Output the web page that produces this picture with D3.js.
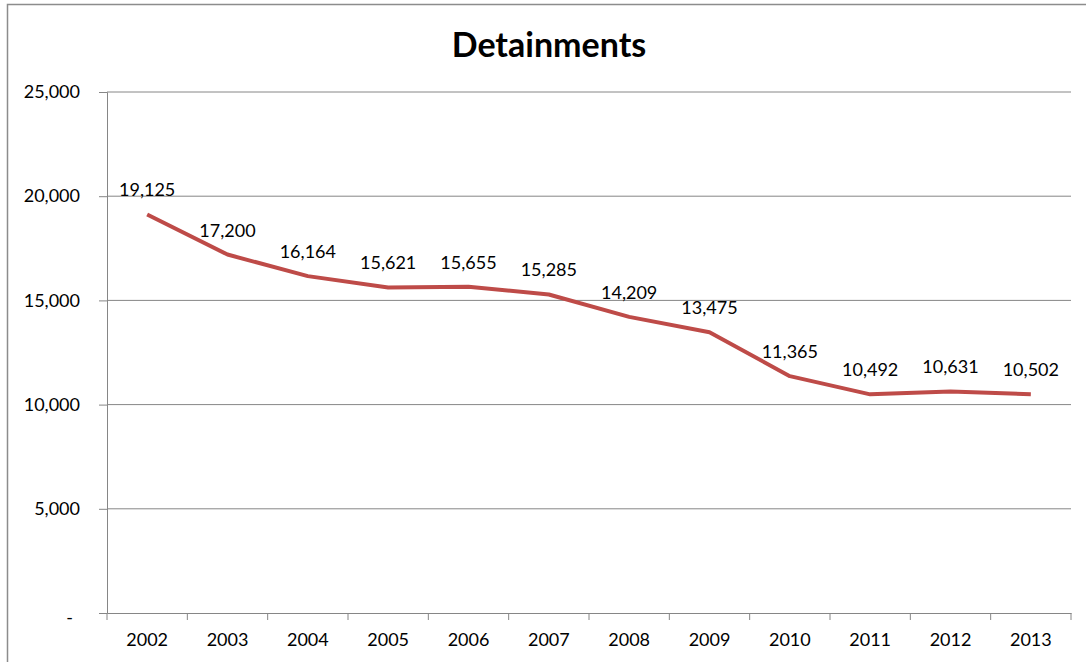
<!DOCTYPE html>
<html>
<head>
<meta charset="utf-8">
<script src="https://cdn.jsdelivr.net/npm/d3@7"></script>
<style>
  body { margin: 0; background: #fff; }
  svg text { font-family: Lato, "Open Sans", sans-serif; fill: #000; }
</style>
</head>
<body>
<div id="container"></div>
<script>
/* CONSTANTS AND GLOBALS */
const width = 1086,
  height = 662,
  margin = {top: 92, bottom: 49, left: 107, right: 15};

// data
const years = ["2002","2003","2004","2005","2006","2007","2008","2009","2010","2011","2012","2013"];
const detainments = [19125, 17200, 16164, 15621, 15655, 15285, 14209, 13475, 11365, 10492, 10631, 10502];
const yTicks = [0, 5000, 10000, 15000, 20000, 25000];

const data = years.map((y, i) => ({year: y, value: detainments[i]}));

const svg = d3.select("#container")
  .append("svg")
  .attr("width", width)
  .attr("height", height);

// outer chart frame
svg.append("rect")
  .attr("x", 7.5).attr("y", 4.5)
  .attr("width", 1090).attr("height", 670)
  .attr("fill", "none")
  .attr("stroke", "#8c8c8c")
  .attr("stroke-width", 1.5);

// Scales
const xScale = d3.scaleBand()
  .domain(years)
  .range([margin.left, width - margin.right]);

const yScale = d3.scaleLinear()
  .domain([0, 25000])
  .range([height - margin.bottom, margin.top]);

const fmt = d3.format(",");

// gridlines + y axis
const yAxis = d3.axisLeft(yScale)
  .tickValues(yTicks)
  .tickSize(8)
  .tickFormat(d => d === 0 ? "-" : fmt(d));

const gy = svg.append("g")
  .attr("transform", `translate(${margin.left},0)`)
  .call(yAxis);
gy.select(".domain").attr("stroke", "#868686");
gy.selectAll(".tick line").attr("stroke", "#868686");
gy.selectAll(".tick text")
  .attr("x", -27)
  .style("font-size", "18px");
gy.selectAll(".tick").filter(d => d === 0).select("text").attr("dy", "0.6em").attr("x", -34);

svg.append("g")
  .selectAll("line")
  .data(yTicks.filter(d => d > 0))
  .join("line")
  .attr("x1", margin.left)
  .attr("x2", width - margin.right)
  .attr("y1", d => yScale(d))
  .attr("y2", d => yScale(d))
  .attr("stroke", "#868686");

// x axis
const xAxis = d3.axisBottom(xScale).tickSize(0);
const gx = svg.append("g")
  .attr("transform", `translate(0,${height - margin.bottom})`)
  .call(xAxis);
gx.select(".domain").attr("stroke", "#868686");
gx.selectAll(".tick text")
  .attr("y", 20)
  .style("font-size", "18px");

// category boundary ticks
const bounds = years.map(y => xScale(y)).concat([xScale.range()[1]]);
svg.append("g")
  .selectAll("line")
  .data(bounds)
  .join("line")
  .attr("x1", d => d).attr("x2", d => d)
  .attr("y1", height - margin.bottom)
  .attr("y2", height - margin.bottom + 7)
  .attr("stroke", "#868686");

// line
const lineGen = d3.line()
  .x(d => xScale(d.year) + xScale.bandwidth() / 2)
  .y(d => yScale(d.value));

svg.append("path")
  .datum(data)
  .attr("fill", "none")
  .attr("stroke", "#be4b48")
  .attr("stroke-width", 4)
  .attr("stroke-linejoin", "round")
  .attr("d", lineGen);

// data labels
svg.append("g")
  .selectAll("text")
  .data(data)
  .join("text")
  .attr("x", d => xScale(d.year) + xScale.bandwidth() / 2)
  .attr("y", d => yScale(d.value) - 18)
  .attr("text-anchor", "middle")
  .style("font-size", "18px")
  .text(d => fmt(d.value));

// title
svg.append("text")
  .attr("x", 549)
  .attr("y", 57)
  .attr("text-anchor", "middle")
  .style("font-size", "34px")
  .style("font-weight", "bold")
  .text("Detainments");
</script>
</body>
</html>
